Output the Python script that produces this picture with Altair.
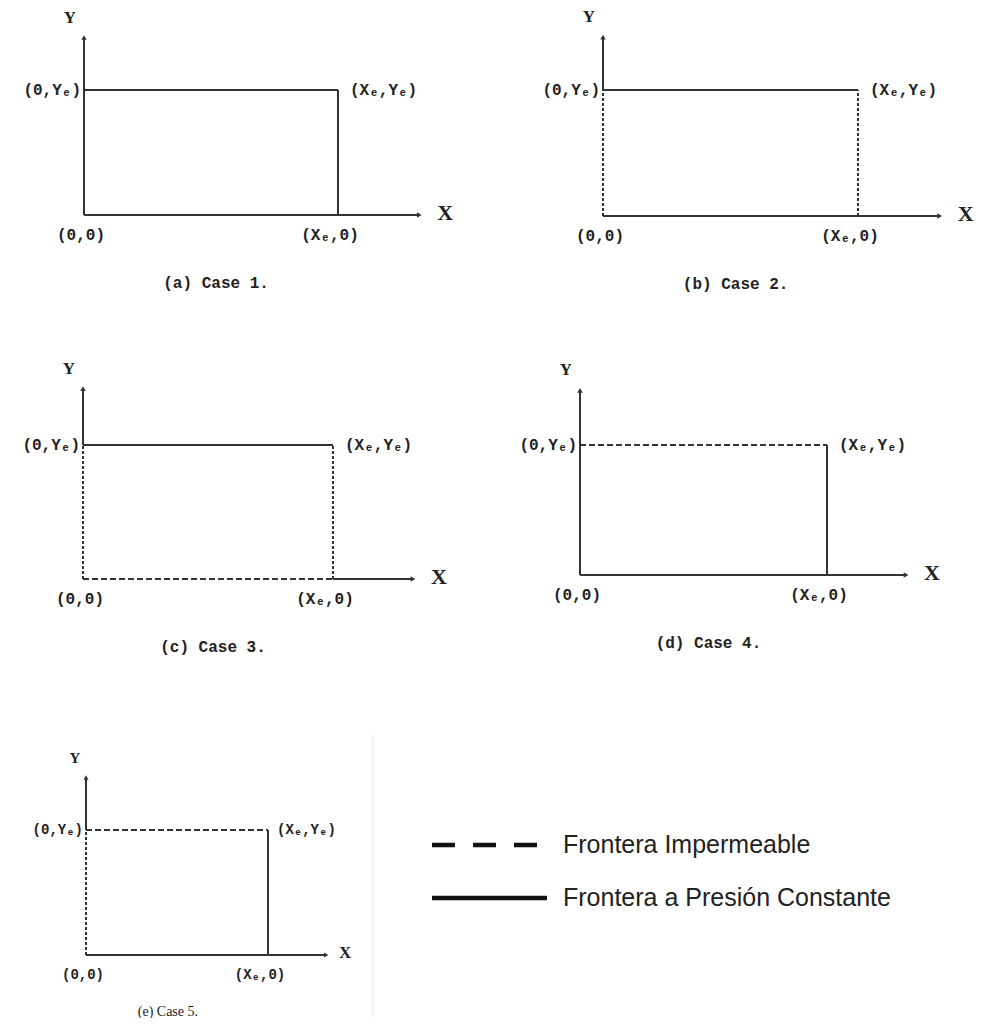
import altair as alt
import pandas as pd

# ---------------- data ----------------
CAPTIONS = ["(a) Case 1.", "(b) Case 2.", "(c) Case 3.", "(d) Case 4.", "(e) Case 5."]
# boundary type of each side: "S" = constant pressure (solid), "I" = impermeable (dashed)
BOTTOM = ["S", "S", "I", "S", "S"]
RIGHT = ["S", "I", "I", "S", "S"]
TOP = ["S", "S", "S", "I", "I"]
LEFT = ["S", "I", "I", "S", "I"]
XE = 1.0          # reservoir length X_e
YE = 1.0          # reservoir width  Y_e
X_AXIS_END = 1.32
Y_AXIS_END = 1.42
CORNER_LABELS = ["(0,0)", "(Xₑ,0)", "(0,Yₑ)", "(Xₑ,Yₑ)"]
AXIS_LABELS = ["X", "Y"]
LEGEND_LABELS = ["Frontera Impermeable", "Frontera a Presión Constante"]
LEGEND_KEYS = ["I", "S"]

# ---------------- layout (page pixels) ----------------
M = 8  # page margin
LAYOUT = [
    dict(ox=84, oy=215, ux=254, uy=125, big=True),
    dict(ox=603, oy=216, ux=255, uy=126, big=True),
    dict(ox=83, oy=579, ux=250, uy=134, big=True),
    dict(ox=580, oy=575, ux=247, uy=130, big=True),
    dict(ox=86, oy=955, ux=182, uy=125, big=False),
]

LINE_COLOR = "#333333"
TEXT_COLOR = "#222222"
LABEL_FONT = "Liberation Mono"
AXIS_FONT = "Liberation Serif"

DASH_DOMAIN = ["S", "I-h", "I-v"]
DASH_RANGE = [[1, 0], [6, 3], [3, 2]]


def panel(i):
    L = LAYOUT[i]
    xs = alt.Scale(domain=[0, XE], range=[L["ox"] - M, L["ox"] - M + L["ux"]], nice=False, zero=False)
    ys = alt.Scale(domain=[0, YE], range=[L["oy"] - M, L["oy"] - M - L["uy"]], nice=False, zero=False)
    X = lambda f: alt.X(f, scale=xs, axis=None)
    Y = lambda f: alt.Y(f, scale=ys, axis=None)

    def st(kind, orient):
        return "S" if kind == "S" else "I-" + orient

    seg = pd.DataFrame({
        "x": [0, XE, 0, 0, XE, 0],
        "x2": [XE, XE, XE, 0, X_AXIS_END, 0],
        "y": [0, 0, YE, 0, 0, YE],
        "y2": [0, YE, YE, YE, 0, Y_AXIS_END],
        "style": [st(BOTTOM[i], "h"), st(RIGHT[i], "v"), st(TOP[i], "h"),
                  st(LEFT[i], "v"), "S", "S"],
    })
    lines = alt.Chart(seg).mark_rule(strokeWidth=2, color=LINE_COLOR).encode(
        x=X("x:Q"), x2="x2:Q", y=Y("y:Q"), y2="y2:Q",
        strokeDash=alt.StrokeDash("style:N", scale=alt.Scale(domain=DASH_DOMAIN, range=DASH_RANGE), legend=None),
    )

    arrows_df = pd.DataFrame({"x": [X_AXIS_END, 0], "y": [0, Y_AXIS_END],
                              "shape": ["triangle-right", "triangle-up"]})
    arrows = alt.Chart(arrows_df).mark_point(filled=True, size=30 if L["big"] else 25,
                                              color=LINE_COLOR, opacity=1).encode(
        x=X("x:Q"), y=Y("y:Q"), shape=alt.Shape("shape:N", scale=None))

    big = L["big"]
    fs = 16 if big else 14
    fa = 22 if big else 17
    fy = 17 if big else 15

    def txt(x, y, t, align, dx, dy, size, font, weight="bold"):
        return alt.Chart(pd.DataFrame({"x": [x], "y": [y], "t": [t]})).mark_text(
            align=align, baseline="middle", dx=dx, dy=dy, fontSize=size, font=font,
            fontWeight=weight, color=TEXT_COLOR
        ).encode(x=X("x:Q"), y=Y("y:Q"), text="t:N")

    layers = [lines, arrows,
              txt(0, 0, CORNER_LABELS[0], "center", -3, 20, fs, LABEL_FONT),
              txt(XE, 0, CORNER_LABELS[1], "center", -8, 20, fs, LABEL_FONT),
              txt(0, YE, CORNER_LABELS[2], "right", -3, 0, fs, LABEL_FONT),
              txt(XE, YE, CORNER_LABELS[3], "left", 12 if big else 9, 0, fs, LABEL_FONT),
              txt(X_AXIS_END, 0, AXIS_LABELS[0], "center", 26 if big else 19, -2, fa, AXIS_FONT),
              txt(0, Y_AXIS_END, AXIS_LABELS[1], "center", -14 if big else -11, -20, fy, AXIS_FONT),
              ]
    if big:
        layers.append(txt(XE * 0.52, 0, CAPTIONS[i], "center", 0, 68, 16, LABEL_FONT))
    else:
        layers.append(txt(XE * 0.45, 0, CAPTIONS[i], "center", 0, 57, 14, AXIS_FONT, "normal"))
    return alt.layer(*layers)


panels = [panel(i) for i in range(5)]

# legend
leg_df = pd.DataFrame({"row": [0, 1], "label": LEGEND_LABELS, "key": LEGEND_KEYS})
leg_y = alt.Scale(domain=[0, 1], range=[845 - M, 898 - M], nice=False, zero=False)
leg_lines = alt.Chart(leg_df).mark_rule(strokeWidth=4.5, color="#111111").encode(
    x=alt.value(432 - M), x2=alt.value(547 - M),
    y=alt.Y("row:Q", scale=leg_y, axis=None),
    strokeDash=alt.StrokeDash("key:N", scale=alt.Scale(domain=["I", "S"], range=[[23, 18], [1, 0]]), legend=None),
)
leg_text = alt.Chart(leg_df).mark_text(align="left", baseline="middle", fontSize=25,
                                        font="Liberation Sans", color="#222222").encode(
    x=alt.value(563 - M), y=alt.Y("row:Q", scale=leg_y, axis=None), text="label:N")
legend = alt.layer(leg_lines, leg_text)

sep = alt.Chart(pd.DataFrame({"a": [0]})).mark_rule(color="#ededed", strokeWidth=1).encode(
    x=alt.value(373 - M), y=alt.value(735 - M), y2=alt.value(1029 - M))

chart = alt.layer(*panels, legend, sep).resolve_scale(
    x="independent", y="independent", strokeDash="independent"
).properties(width=966, height=1010, padding=0, autosize="none").configure_view(stroke=None)

chart.save("out.html", embed_options={"renderer": "svg", "actions": False})
